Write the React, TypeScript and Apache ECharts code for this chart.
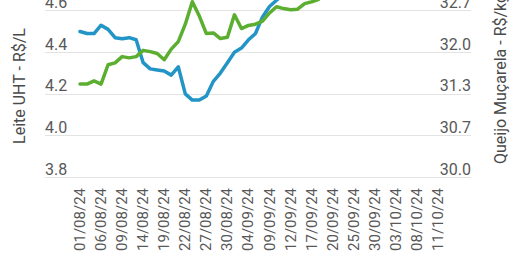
import React, { useEffect, useRef } from "react";
import * as echarts from "echarts";

const CATEGORIES = [
  "01/08/24", "02/08/24", "05/08/24", "06/08/24", "07/08/24", "08/08/24", "09/08/24",
  "12/08/24", "13/08/24", "14/08/24", "15/08/24", "16/08/24", "19/08/24", "20/08/24",
  "21/08/24", "22/08/24", "23/08/24", "26/08/24", "27/08/24", "28/08/24", "29/08/24",
  "30/08/24", "02/09/24", "03/09/24", "04/09/24", "05/09/24", "06/09/24", "09/09/24",
  "10/09/24", "11/09/24", "12/09/24", "13/09/24", "16/09/24", "17/09/24", "18/09/24",
  "19/09/24", "20/09/24", "23/09/24", "24/09/24", "25/09/24", "26/09/24", "27/09/24",
  "30/09/24", "01/10/24", "02/10/24", "03/10/24", "04/10/24", "07/10/24", "08/10/24",
  "09/10/24", "10/10/24", "11/10/24",
];

// Leite UHT - R$/L (left axis)
const LEITE_UHT = [
  4.50, 4.49, 4.49, 4.53, 4.51, 4.47, 4.465, 4.47, 4.46, 4.35,
  4.32, 4.315, 4.31, 4.29, 4.33, 4.20, 4.17, 4.17, 4.19, 4.26,
  4.30, 4.35, 4.40, 4.42, 4.46, 4.49, 4.57, 4.62, 4.65, 4.68,
  4.72, 4.75, 4.77, 4.78, 4.80, 4.82, 4.81, 4.83, 4.85, 4.86,
  4.88, 4.87, 4.89, 4.90, 4.91, 4.90, 4.92, 4.93, 4.92, 4.94,
  4.95, 4.95,
];

// Queijo Muçarela - R$/kg (right axis)
const QUEIJO_MUCARELA = [
  31.49, 31.49, 31.54, 31.49, 31.80, 31.83, 31.93, 31.91, 31.93, 32.03,
  32.01, 31.98, 31.88, 32.05, 32.17, 32.45, 32.81, 32.58, 32.30, 32.31,
  32.22, 32.24, 32.60, 32.38, 32.43, 32.45, 32.50, 32.63, 32.73, 32.70,
  32.68, 32.69, 32.78, 32.81, 32.85, 32.95, 33.00, 33.05, 33.10, 33.10,
  33.15, 33.20, 33.25, 33.30, 33.30, 33.35, 33.40, 33.45, 33.50, 33.50,
  33.55, 33.60,
];

const LEFT_MIN = 3.8;
const LEFT_MAX = 5.0;
const LEFT_STEP = 0.2;
const RIGHT_MIN = 30;
const RIGHT_MAX = 34;
const RIGHT_STEP = 2 / 3;

const LEFT_TITLE = "Leite UHT - R$/L";
const RIGHT_TITLE = "Queijo Muçarela - R$/kg";

const OFFSET = 100;
const W = 516;
const H = 258 + OFFSET;
const FONT = "Roboto";
const TEXT = "#585858";

export default function App() {
  const ref = useRef<HTMLDivElement>(null);
  useEffect(() => {
    if (!ref.current) return;
    const chart = echarts.init(ref.current, undefined, { renderer: "svg" });
    const gridTop = 27.5;
    const gridBottom = 81;
    chart.setOption({
      animation: false,
      grid: [
        { left: 45, right: 45, top: gridTop, bottom: gridBottom },
        { left: 80, right: 78, top: gridTop, bottom: gridBottom },
      ],
      xAxis: [
        { type: "value", gridIndex: 0, show: false, min: 0, max: 1 },
        {
          type: "category",
          gridIndex: 1,
          data: CATEGORIES,
          boundaryGap: false,
          axisLine: { show: false },
          axisTick: { show: false },
          splitLine: { show: false },
          axisLabel: {
            rotate: 90,
            interval: 2,
            margin: 11,
            color: TEXT,
            fontFamily: FONT,
            fontSize: 15,
          },
        },
      ],
      yAxis: [
        {
          type: "value",
          gridIndex: 0,
          position: "left",
          min: LEFT_MIN,
          max: LEFT_MAX,
          interval: LEFT_STEP,
          axisLine: { show: false },
          axisTick: { show: false },
          splitLine: { show: true, lineStyle: { color: "#e3e3e3", width: 1 } },
          axisLabel: {
            inside: true,
            margin: 0,
            verticalAlign: "bottom",
            color: TEXT,
            fontFamily: FONT,
            fontSize: 16,
            formatter: (v: number) => v.toFixed(1),
          },
        },
        {
          type: "value",
          gridIndex: 0,
          position: "right",
          min: RIGHT_MIN,
          max: RIGHT_MAX,
          interval: RIGHT_STEP,
          axisLine: { show: false },
          axisTick: { show: false },
          splitLine: { show: false },
          axisLabel: {
            inside: true,
            margin: 0,
            verticalAlign: "bottom",
            color: TEXT,
            fontFamily: FONT,
            fontSize: 16,
            formatter: (v: number) => v.toFixed(1),
          },
        },
        {
          type: "value",
          gridIndex: 1,
          min: LEFT_MIN,
          max: LEFT_MAX,
          interval: LEFT_STEP,
          show: false,
          splitLine: { show: false },
        },
        {
          type: "value",
          gridIndex: 1,
          min: RIGHT_MIN,
          max: RIGHT_MAX,
          interval: RIGHT_STEP,
          show: false,
          splitLine: { show: false },
        },
      ],
      series: [
        {
          name: LEFT_TITLE,
          type: "line",
          xAxisIndex: 1,
          yAxisIndex: 2,
          data: LEITE_UHT,
          showSymbol: false,
          symbol: "none",
          lineStyle: { color: "#2394c6", width: 3.5, cap: "round", join: "round" },
          itemStyle: { color: "#2394c6" },
        },
        {
          name: RIGHT_TITLE,
          type: "line",
          xAxisIndex: 1,
          yAxisIndex: 3,
          data: QUEIJO_MUCARELA,
          showSymbol: false,
          symbol: "none",
          lineStyle: { color: "#5cae31", width: 3.5, cap: "round", join: "round" },
          itemStyle: { color: "#5cae31" },
        },
      ],
      graphic: [
        {
          type: "text",
          x: 19,
          y: 86 + OFFSET,
          rotation: Math.PI / 2,
          style: {
            text: LEFT_TITLE,
            fill: "#4a4a4a",
            font: `16px ${FONT}`,
            align: "center",
            verticalAlign: "middle",
          },
        },
        {
          type: "text",
          x: 500,
          y: 79 + OFFSET,
          rotation: Math.PI / 2,
          style: {
            text: RIGHT_TITLE,
            fill: "#4a4a4a",
            font: `16px ${FONT}`,
            align: "center",
            verticalAlign: "middle",
          },
        },
      ],
    });
    return () => chart.dispose();
  }, []);

  return (
    <div
      style={{
        position: "absolute",
        left: 0,
        top: 0,
        width: W,
        height: 258,
        overflow: "hidden",
        background: "#fff",
      }}
    >
      <div
        ref={ref}
        style={{ position: "absolute", left: 0, top: -OFFSET, width: W, height: H }}
      />
    </div>
  );
}
